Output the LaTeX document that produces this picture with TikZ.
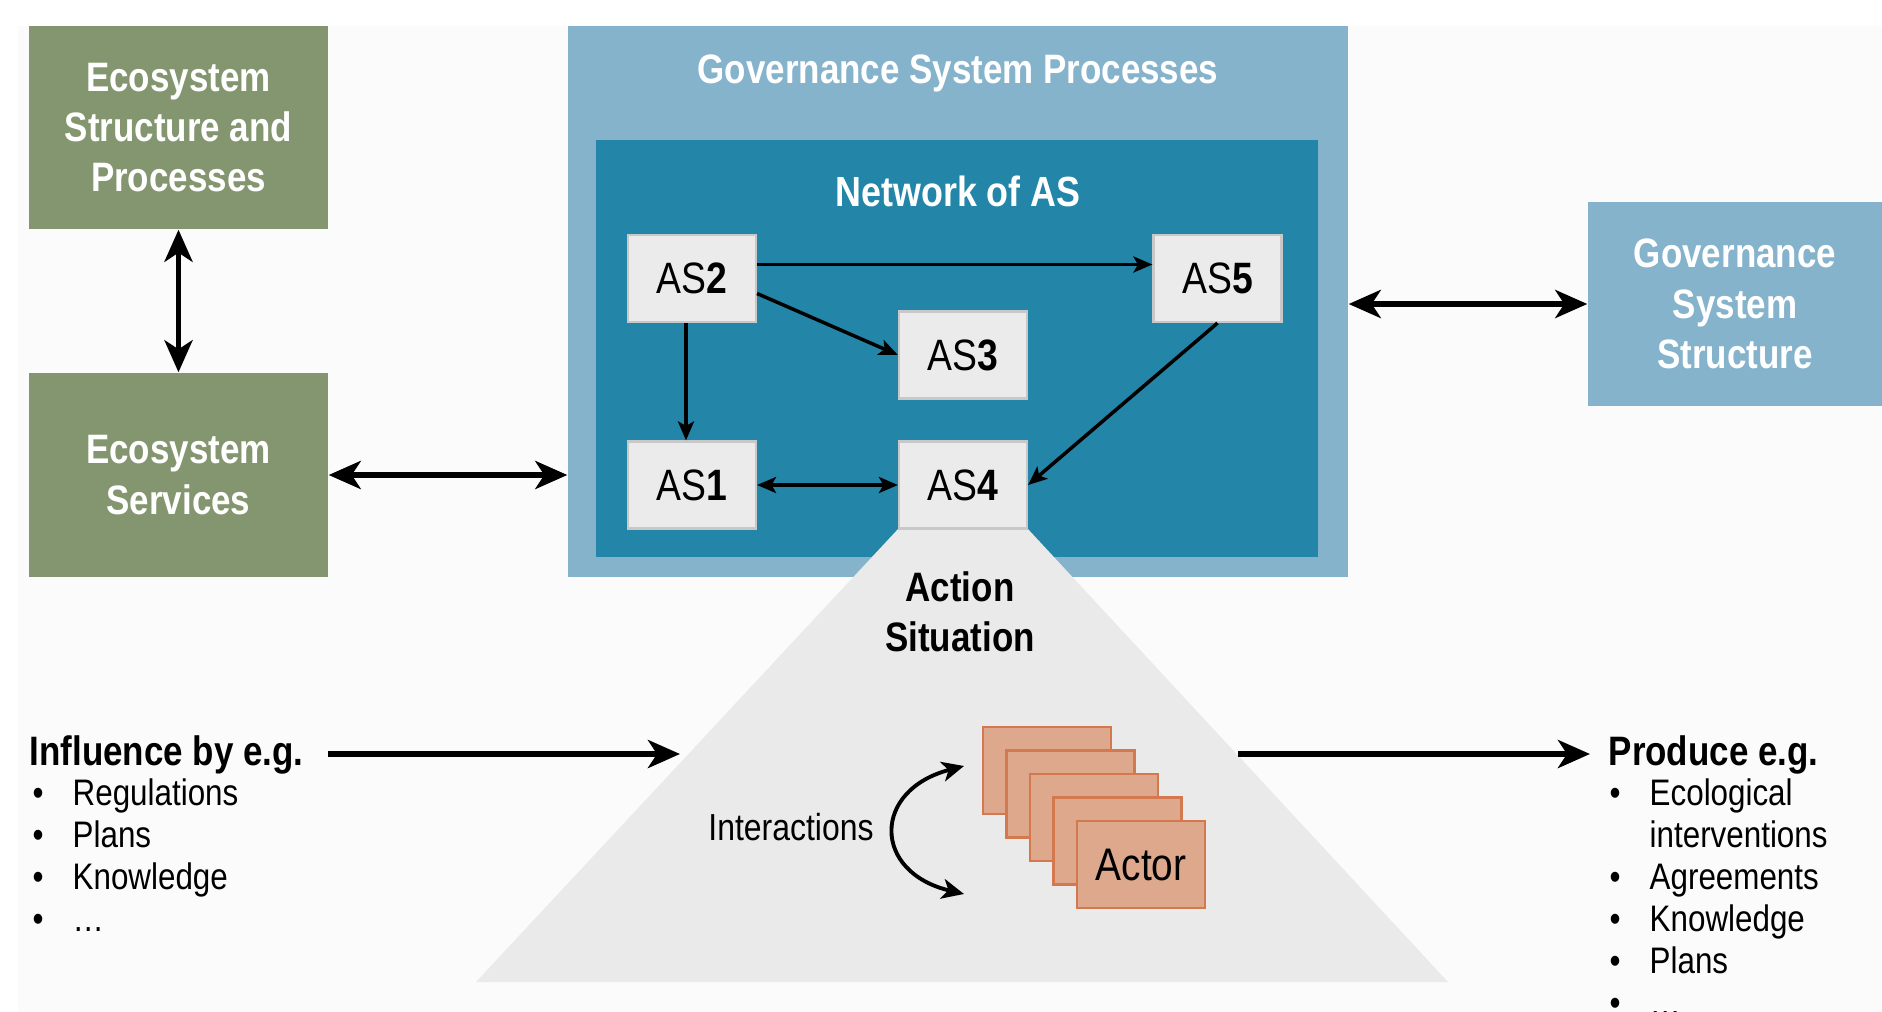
\documentclass[tikz,border=0pt]{standalone}
\usepackage{fontspec}
\setmainfont{Liberation Sans}[FakeStretch=0.85]
\usepackage{xcolor}
\usetikzlibrary{arrows.meta,positioning}

\definecolor{ecogreen}{RGB}{132,150,111}
\definecolor{govlight}{RGB}{134,179,204}
\definecolor{govdark}{RGB}{35,133,167}
\definecolor{asgray}{RGB}{235,235,235}
\definecolor{asline}{RGB}{200,200,200}
\definecolor{trigray}{RGB}{234,234,234}
\definecolor{actorfill}{RGB}{221,168,140}
\definecolor{actorline}{RGB}{212,120,79}
\definecolor{bgcol}{RGB}{251,251,251}

\newcommand{\blt}{\makebox[4mm][l]{\textbullet}}

\begin{document}
\begin{tikzpicture}[x=0.1mm,y=-0.1mm,
  bigtip/.tip={Stealth[length=3.2mm,width=2.8mm,inset=0.9mm]},
  smalltip/.tip={Stealth[length=1.9mm,width=1.6mm,inset=0.45mm]},
  midtip/.tip={Stealth[length=2.2mm,width=2mm,inset=0.6mm]},
  box/.style={rectangle,inner sep=0pt,align=center,text=white,
    font=\fontsize{11.7}{14.3}\selectfont\bfseries},
  asbox/.style={rectangle,draw=asline,fill=asgray,line width=0.6pt,
    minimum width=12.8mm,minimum height=8.7mm,inner sep=0pt,
    font=\fontsize{12.5}{14}\selectfont},
  actorbox/.style={rectangle,draw=actorline,fill=actorfill,line width=0.7pt,
    minimum width=12.8mm,minimum height=8.7mm,inner sep=0pt,
    font=\fontsize{13}{15}\selectfont},
  title/.style={inner sep=0pt,font=\fontsize{11.7}{14.3}\selectfont\bfseries},
  items/.style={inner sep=0pt,align=left,font=\fontsize{10.5}{11.9}\selectfont},
  bigarrow/.style={line width=1.7pt,-bigtip},
  bigboth/.style={line width=1.7pt,bigtip-bigtip},
  netarrow/.style={line width=1pt,-smalltip},
  netboth/.style={line width=1pt,smalltip-smalltip}
]
\useasboundingbox (0,0) rectangle (1882,1012);
\fill[bgcol] (18,26) rectangle (1882,1012);

% The ecosystem side
\node[box,fill=ecogreen,minimum width=29.9mm,minimum height=20.3mm] (esp) at (178.5,127.5)
  {Ecosystem\\Structure and\\Processes};
\node[box,fill=ecogreen,minimum width=29.9mm,minimum height=20.4mm] (es) at (178.5,475)
  {Ecosystem\\Services};

% The governance boxes
\node[box,fill=govlight,minimum width=78mm,minimum height=55.1mm] (gsp) at (958,301.5) {};
\node[box,anchor=center] (gsptitle) at (958,73) {Governance System Processes};
\node[box,fill=govdark,minimum width=72.2mm,minimum height=41.7mm] (net) at (957,348.5) {};
\node[box,anchor=center,font=\fontsize{12}{14.3}\selectfont\bfseries] (nettitle) at (958,191) {Network of AS};
\node[box,fill=govlight,minimum width=29.4mm,minimum height=20.4mm] (gss) at (1735,304)
  {Governance\\System\\Structure};

% The action situation
\fill[trigray] (899,528) -- (1027,528) -- (1448,982) -- (476,982) -- cycle;
\coordinate (tin) at (680,754);
\coordinate (tout) at (1238,754);
\node[title,align=center] (act) at (960,612) {Action\\Situation};

% The network
\node[asbox] (as2) at (692,278.5) {AS\textbf{2}};
\node[asbox] (as5) at (1217.5,278.5) {AS\textbf{5}};
\node[asbox] (as3) at (963,355) {AS\textbf{3}};
\node[asbox] (as1) at (692,485) {AS\textbf{1}};
\node[asbox] (as4) at (963,485) {AS\textbf{4}};

\draw[netarrow] ([yshift=1.4mm]as2.east) -- ([yshift=1.4mm]as5.west);
\draw[netarrow] ([yshift=-1.5mm]as2.east) -- (as3.west);
\draw[netarrow] ([xshift=-0.6mm]as2.south) -- ([xshift=-0.6mm]as1.north);
\draw[netboth] (as1.east) -- (as4.west);
\draw[netarrow] (as5.south) -- (as4.east);

% The actors
\foreach \i in {0,...,3}
  \node[actorbox] (actor\i) at (1047+23.5*\i,770.5+23.5*\i) {};
\node[actorbox] (actor4) at (1141,864.5) {Actor};
\node[inner sep=0pt,font=\fontsize{10.7}{12}\selectfont] (inter) at (791,827) {Interactions};
\coordinate (ia) at (964,766);
\coordinate (ib) at (964,894);
\draw[line width=1.1pt,midtip-midtip] (ia) .. controls (872,790) and (872,872) .. (ib);

% The big arrows
\draw[bigboth] (esp.south) -- (es.north);
\draw[bigboth] (es.east) -- (gsp.west |- es.east);
\draw[bigboth] (gsp.east |- gss.west) -- (gss.west);

% The lists
\node[title,anchor=base west] (infl) at (29,765) {Influence by e.g.};
\node[items,anchor=base west] (infllist) at (32,931)
  {\blt Regulations\\ \blt Plans\\ \blt Knowledge\\ \blt \dots};
\node[title,anchor=base west] (prod) at (1608,765) {Produce e.g.};
\node[items,anchor=base west] (prodlist) at (1609,1015)
  {\blt Ecological\\ \hspace*{4mm}interventions\\ \blt Agreements\\ \blt Knowledge\\ \blt Plans\\ \blt \dots};
\draw[bigarrow,shorten <=2.4mm] (infl.east |- tin) -- (tin);
\draw[bigarrow,shorten >=1.8mm] (tout) -- (prod.west |- tout);
\end{tikzpicture}
\end{document}
